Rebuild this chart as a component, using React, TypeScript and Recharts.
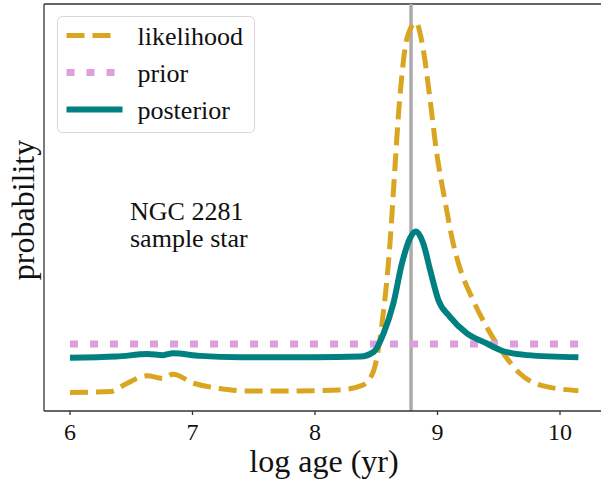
import React from 'react';
import { LineChart, Line, XAxis, YAxis, ReferenceLine, Customized } from 'recharts';

// log age grid points
const likelihoodAge = [
  6.0, 6.34, 6.44, 6.63, 6.76, 6.84, 7.01, 7.22, 7.44, 7.8, 8.2, 8.39, 8.48, 8.54, 8.61,
  8.653, 8.68, 8.708, 8.749, 8.824, 8.884, 8.94, 8.99, 9.06, 9.13, 9.17, 9.29, 9.4, 9.537,
  9.67, 9.84, 10.15,
];
const likelihoodProb = [
  0.0, 0.003, 0.02, 0.045, 0.038, 0.049, 0.025, 0.011, 0.004, 0.004, 0.007, 0.02, 0.06, 0.169,
  0.394, 0.61, 0.745, 0.853, 0.955, 1.0, 0.926, 0.79, 0.655, 0.52, 0.4, 0.35, 0.25, 0.178,
  0.106, 0.052, 0.02, 0.005,
];

const posteriorAge = [
  6.0, 6.38, 6.63, 6.76, 6.84, 7.06, 7.39, 8.0, 8.37, 8.48, 8.56, 8.64, 8.71, 8.776, 8.824,
  8.884, 8.94, 9.007, 9.1, 9.24, 9.4, 9.51, 9.73, 10.15,
];
const posteriorProb = [
  0.094, 0.097, 0.104, 0.101, 0.106, 0.099, 0.095, 0.095, 0.097, 0.11, 0.16, 0.241, 0.349,
  0.417, 0.435, 0.403, 0.331, 0.25, 0.205, 0.16, 0.133, 0.115, 0.101, 0.095,
];

const priorAge = [6.0, 10.15];
const priorProb = [0.131, 0.131];

const xTicks = [6, 7, 8, 9, 10];
const xDomain = [5.7878, 10.3592];
const yDomain = [-0.05, 1.05];
const clusterAge = 8.784;
const noteLines = ['NGC 2281', 'sample star'];

const toPoints = (xs: number[], ys: number[]) => xs.map((x, i) => ({ x, y: ys[i] }));

const likelihoodData = toPoints(likelihoodAge, likelihoodProb);
const posteriorData = toPoints(posteriorAge, posteriorProb);
const priorData = toPoints(priorAge, priorProb);

const FONT = 'Liberation Serif, DejaVu Serif, serif';

const series = [
  { name: 'likelihood', color: '#DAA520', width: 5, dash: '18 8', len: 45 },
  { name: 'prior', color: '#DDA0DD', width: 7, dash: '8 12', len: 49 },
  { name: 'posterior', color: '#008080', width: 6, dash: undefined, len: 56 },
];

function AgeTick(props: any) {
  const { x, y, payload } = props;
  return (
    <text x={x} y={y} dy={17} textAnchor="middle" fontSize={24} fontFamily={FONT} fill="#111">
      {payload.value}
    </text>
  );
}

function Extras() {
  return (
    <g>
      <text
        transform="translate(34, 210) rotate(-90)"
        textAnchor="middle"
        fontSize={32}
        fontFamily={FONT}
        fill="#111"
      >
        probability
      </text>
      {noteLines.map((t, i) => (
        <text key={t} x={130} y={220 + i * 27} fontSize={26} fontFamily={FONT} fill="#111">
          {t}
        </text>
      ))}
      {/* legend */}
      <g transform="translate(57.5, 16.5)">
        <rect width={197} height={116} rx={5} fill="#fff" fillOpacity={0.85} stroke="#d6d6d6" />
        {series.map((s, i) => {
          const y = 19 + i * 37;
          return (
            <g key={s.name}>
              <line
                x1={9}
                x2={9 + s.len}
                y1={y}
                y2={y}
                stroke={s.color}
                strokeWidth={s.width}
                strokeDasharray={s.dash}
              />
              <text x={80} y={y + 9.5} fontSize={26} fontFamily={FONT} fill="#111">
                {s.name}
              </text>
            </g>
          );
        })}
      </g>
    </g>
  );
}

export default function App() {
  return (
    <div
      style={{
        position: 'absolute',
        left: 0,
        top: 0,
        width: 601,
        height: 483,
        overflow: 'hidden',
        background: '#fff',
        fontFamily: FONT,
      }}
    >
      <LineChart width={610} height={483} margin={{ top: 4, right: 6, bottom: 0, left: 44 }}>
        <XAxis
          dataKey="x"
          type="number"
          domain={xDomain}
          ticks={xTicks}
          allowDataOverflow
          height={72}
          tickSize={4}
          tickMargin={8}
          stroke="#333"
          strokeWidth={1.3}
          tick={<AgeTick />}
          label={{
            value: 'log age (yr)',
            position: 'insideBottom',
            offset: 11,
            fontSize: 32,
            fontFamily: FONT,
            fill: '#111',
          }}
        />
        <YAxis
          dataKey="y"
          type="number"
          domain={yDomain}
          allowDataOverflow
          width={0}
          tick={false}
          tickLine={false}
          axisLine={false}
        />
        {/* frame: top and left spines */}
        <ReferenceLine y={yDomain[1]} stroke="#333" strokeWidth={1.3} />
        <ReferenceLine x={xDomain[0]} stroke="#333" strokeWidth={1.3} />
        <ReferenceLine x={clusterAge} stroke="#aaaaaa" strokeWidth={3.5} />
        <Line
          data={likelihoodData}
          dataKey="y"
          name="likelihood"
          type="monotone"
          stroke={series[0].color}
          strokeWidth={series[0].width}
          strokeDasharray={series[0].dash}
          dot={false}
          isAnimationActive={false}
        />
        <Line
          data={priorData}
          dataKey="y"
          name="prior"
          type="linear"
          stroke={series[1].color}
          strokeWidth={series[1].width}
          strokeDasharray={series[1].dash}
          dot={false}
          isAnimationActive={false}
        />
        <Line
          data={posteriorData}
          dataKey="y"
          name="posterior"
          type="monotone"
          stroke={series[2].color}
          strokeWidth={series[2].width}
          dot={false}
          isAnimationActive={false}
        />
        <Customized component={Extras} />
      </LineChart>
    </div>
  );
}
